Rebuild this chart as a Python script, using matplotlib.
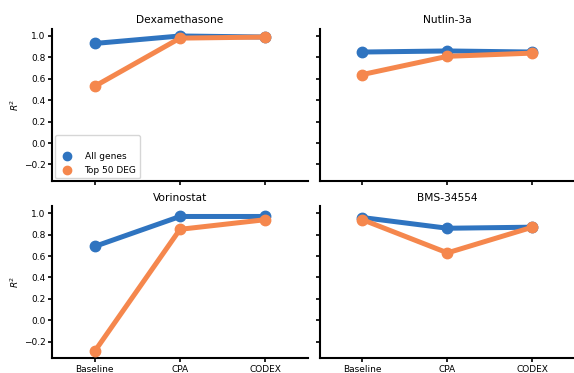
import matplotlib
matplotlib.use("Agg")
import matplotlib.pyplot as plt
from matplotlib.lines import Line2D

methods = ["Baseline", "CPA", "CODEX"]
drugs = ["Dexamethasone", "Nutlin-3a", "Vorinostat", "BMS-34554"]
all_genes = {
    "Dexamethasone": [0.93, 1.00, 0.99],
    "Nutlin-3a": [0.85, 0.86, 0.85],
    "Vorinostat": [0.69, 0.97, 0.97],
    "BMS-34554": [0.96, 0.86, 0.87],
}
top50 = {
    "Dexamethasone": [0.53, 0.98, 0.99],
    "Nutlin-3a": [0.64, 0.81, 0.84],
    "Vorinostat": [-0.29, 0.85, 0.94],
    "BMS-34554": [0.94, 0.63, 0.87],
}
series_labels = ["All genes", "Top 50 DEG"]
blue = "#2f74c0"
orange = "#f5874d"

fig = plt.figure(figsize=(5.74, 3.73), dpi=100)
positions = [
    [0.0906, 0.5147, 0.446, 0.4075],
    [0.5575, 0.5147, 0.444, 0.4075],
    [0.0906, 0.0394, 0.446, 0.4075],
    [0.5575, 0.0394, 0.444, 0.4075],
]
axes = []
for i, drug in enumerate(drugs):
    ax = fig.add_axes(positions[i], sharey=axes[0] if axes else None)
    axes.append(ax)
    x = list(range(len(methods)))
    ax.plot(x, all_genes[drug], color=blue, lw=3.6, marker="o", ms=7.5, zorder=3)
    ax.plot(x, top50[drug], color=orange, lw=3.6, marker="o", ms=7.5, zorder=3)
    ax.set_xlim(-0.5, 2.5)
    ax.set_xticks(x)
    ax.set_title(drug, fontsize=7.7, pad=4)
    for s in ["top", "right"]:
        ax.spines[s].set_visible(False)
    ax.spines["left"].set_linewidth(1.5)
    ax.spines["bottom"].set_linewidth(1.5)
    ax.tick_params(width=1.2, length=3, labelsize=6.5, pad=1.5)
    if i < 2:
        ax.set_xticklabels([])
    else:
        ax.set_xticklabels(methods)
    if i % 2 == 1:
        ax.tick_params(labelleft=False)
    else:
        ax.set_ylabel("$R^2$", fontsize=6.5, labelpad=2)

axes[0].set_ylim(-0.355, 1.065)
axes[0].set_yticks([-0.2, 0.0, 0.2, 0.4, 0.6, 0.8, 1.0])

handles = [
    Line2D([], [], ls="", marker="o", ms=6, color=blue),
    Line2D([], [], ls="", marker="o", ms=6, color=orange),
]
axes[0].legend(handles, series_labels, loc="lower left", fontsize=6.5,
               title=" ", title_fontsize=6.5, handletextpad=0.9,
               borderaxespad=0.3, handlelength=2.0)

fig.savefig("out.png", dpi=100)
